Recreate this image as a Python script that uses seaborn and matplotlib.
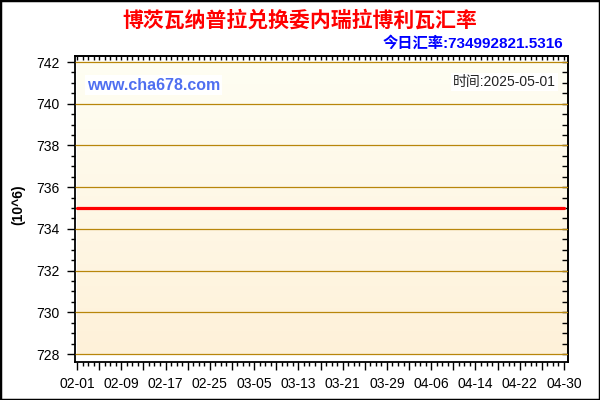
import numpy as np
import pandas as pd
import matplotlib
matplotlib.use('Agg')
import matplotlib.pyplot as plt
import matplotlib.dates as mdates
from matplotlib.ticker import MultipleLocator, FixedLocator, NullFormatter
from matplotlib.patches import Rectangle
import seaborn as sns

# Dados (taxa em unidades de 10^6)
datas = ['2025-02-01', '2025-02-09', '2025-02-17', '2025-02-25', '2025-03-05', '2025-03-13',
         '2025-03-21', '2025-03-29', '2025-04-06', '2025-04-14', '2025-04-22', '2025-04-30']
taxas = [734.9928, 734.9928, 734.9928, 734.9928, 734.9928, 734.9928,
         734.9928, 734.9928, 734.9928, 734.9928, 734.9928, 734.9928]
rotulos_x = ['02-01', '02-09', '02-17', '02-25', '03-05', '03-13',
             '03-21', '03-29', '04-06', '04-14', '04-22', '04-30']
valores_y = [728, 730, 732, 734, 736, 738, 740, 742]

titulo = '博茨瓦纳普拉兑换委内瑞拉博利瓦汇率'
subtitulo = '今日汇率:734992821.5316'
site = 'www.cha678.com'
tempo = '时间:2025-05-01'

df = pd.DataFrame({'data': pd.to_datetime(datas), 'taxa': taxas})

sns.set_style('ticks')
plt.rcParams['font.family'] = ['Liberation Sans', 'Noto Sans CJK SC', 'DejaVu Sans']

fig = plt.figure(figsize=(6, 4), dpi=100)
ax = fig.add_axes([75 / 600, 1 - 362 / 400, (568 - 75) / 600, (362 - 56) / 400])

x0 = mdates.date2num(df['data'].iloc[0])
x1 = mdates.date2num(df['data'].iloc[-1])

# Fundo em degradê
grad = np.linspace(0, 1, 256).reshape(-1, 1)
cmap = matplotlib.colors.LinearSegmentedColormap.from_list('bg', ['#FEF1D9', '#FFFEF3'])
ax.imshow(grad, extent=[x0, x1 + 0.5, min(valores_y), max(valores_y)], origin='lower',
          aspect='auto', cmap=cmap, zorder=0)

sns.lineplot(data=df, x='data', y='taxa', ax=ax, color='#FF0000', linewidth=2.3, zorder=3)

ax.set_xlim(x0 - 0.36, x1 + 0.72)
ax.set_ylim(727.62, 742.29)

ax.set_yticks(valores_y)
ax.yaxis.set_minor_locator(MultipleLocator(0.5))
ax.yaxis.grid(True, which='major', color='#B8860B', linewidth=0.9)
ax.set_axisbelow(False)

major_x = [x0 + 4 * i for i in range(23)]
ax.xaxis.set_major_locator(FixedLocator(major_x))
ax.xaxis.set_major_formatter(matplotlib.ticker.FixedFormatter(
    [rotulos_x[i // 2] if i % 2 == 0 else '' for i in range(23)]))
ax.xaxis.set_minor_locator(mdates.DayLocator())

ax.tick_params(axis='both', which='major', direction='out', length=6, width=1,
               color='black', labelsize=10, labelcolor='black')
ax.tick_params(axis='both', which='minor', direction='out', length=3, width=1, color='black')
ax.tick_params(axis='y', pad=5)
ax.tick_params(axis='x', pad=5)
ax.set_xlabel('')
ax.set_ylabel('')
for s in ax.spines.values():
    s.set_visible(True)
    s.set_linewidth(1.3)
    s.set_color('black')

# Marcas internas em cima e à direita
top = ax.secondary_xaxis('top')
top.xaxis.set_major_locator(mdates.DayLocator())
top.xaxis.set_major_formatter(NullFormatter())
top.tick_params(axis='x', direction='in', length=3, width=1, color='black')
top.spines['top'].set_linewidth(1.3)

right = ax.secondary_yaxis('right')
right.yaxis.set_major_locator(MultipleLocator(0.5))
right.yaxis.set_major_formatter(NullFormatter())
right.tick_params(axis='y', direction='in', length=4, width=1, color='black')
right.spines['right'].set_linewidth(1.3)

# Textos
fig.text(0.5, 1 - 20 / 400, titulo, ha='center', va='center', color='#FF0000',
         fontsize=15, fontweight='bold', family=['Noto Sans CJK SC', 'DejaVu Sans'])
fig.text(563 / 600, 1 - 43 / 400, subtitulo, ha='right', va='center', color='#0000FF',
         fontsize=11, fontweight='bold', family=['Liberation Sans', 'Noto Sans CJK SC'])
fig.text(87 / 600, 1 - 85 / 400, site, ha='left', va='center', color='#4F6FF0',
         fontsize=11.5, fontweight='bold',
         bbox=dict(facecolor='white', edgecolor='none', pad=1.5))
fig.text(556 / 600, 1 - 82 / 400, tempo, ha='right', va='center', color='#222222',
         fontsize=10, family=['Liberation Sans', 'Noto Sans CJK SC'],
         bbox=dict(facecolor='white', edgecolor='none', pad=1.5))
fig.text(18 / 600, 1 - 205 / 400, '(10^6)', rotation=90, ha='center', va='center',
         fontsize=10, fontweight='bold', color='black')

# Moldura da figura
fig.add_artist(Rectangle((0, 0), 1, 1, transform=fig.transFigure, fill=False,
                         edgecolor='black', linewidth=2.5))

fig.savefig('out.png', dpi=100)
